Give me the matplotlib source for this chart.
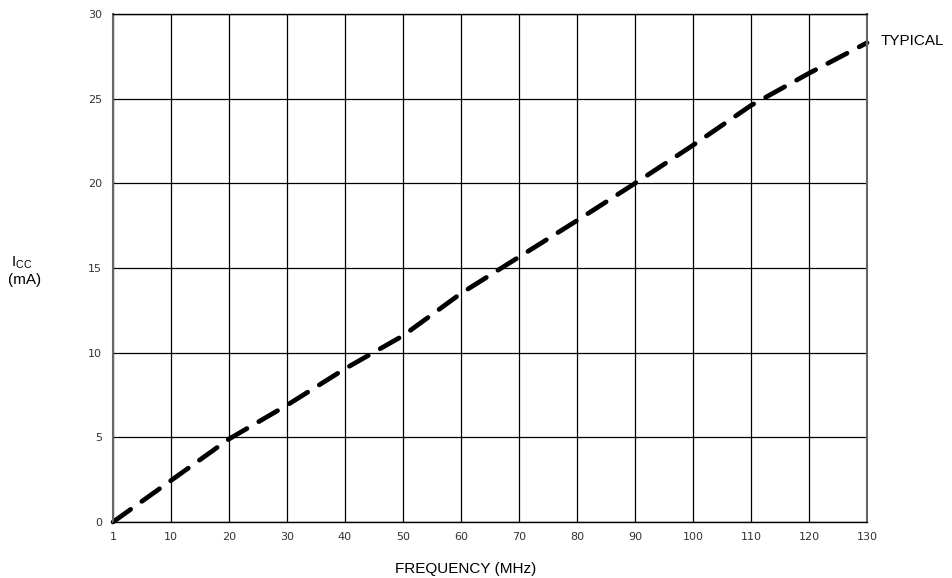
import matplotlib
matplotlib.use("Agg")
import matplotlib.pyplot as plt
import numpy as np

# Data
freq_ticks = [1, 10, 20, 30, 40, 50, 60, 70, 80, 90, 100, 110, 120, 130]
freq_labels = [str(v) for v in freq_ticks]
icc_ticks = [0, 5, 10, 15, 20, 25, 30]
icc_labels = [str(v) for v in icc_ticks]

freq = [1, 10, 20, 30, 40, 50, 60, 70, 80, 90, 100, 110, 120, 130]
icc_typical = [0.0, 2.45, 4.9, 6.9, 9.05, 11.0, 13.5, 15.65, 17.8, 20.0, 22.25, 24.6, 26.5, 28.3]

plt.rcParams['font.family'] = ['Liberation Sans', 'DejaVu Sans']
plt.rcParams['mathtext.fontset'] = 'custom'
plt.rcParams['mathtext.rm'] = 'Liberation Sans'

fig = plt.figure(figsize=(9.52, 5.78), dpi=100)
ax = fig.add_axes([113/952, 1 - 522/578, (867-113)/952, (522-14)/578])


def fwd(x):
    x = np.asarray(x, dtype=float)
    return np.where(x < 10, (x - 1) / 9.0 * 10.0, x)


def inv(y):
    y = np.asarray(y, dtype=float)
    return np.where(y < 10, y / 10.0 * 9.0 + 1, y)


ax.set_xscale('function', functions=(fwd, inv))
ax.set_xlim(1, 130)
ax.set_ylim(0, 30)

tick_font = dict(family='DejaVu Sans', fontsize=8, color='#333333')
ax.set_xticks(freq_ticks)
ax.set_xticklabels(freq_labels, **tick_font)
ax.set_yticks(icc_ticks)
ax.set_yticklabels(icc_labels, **tick_font)
ax.xaxis.set_minor_locator(matplotlib.ticker.NullLocator())
ax.tick_params(axis='both', length=0)
ax.tick_params(axis='x', pad=7)
ax.tick_params(axis='y', pad=8)

ax.grid(True, color='black', linewidth=0.9)
ax.set_axisbelow(True)
for s in ax.spines.values():
    s.set_linewidth(1.0)
    s.set_color('black')
ax.spines['left'].set_color('#666666')
ax.spines['right'].set_color('#666666')
ax.spines['left'].set_linewidth(1.5)
ax.spines['right'].set_linewidth(1.5)

ax.plot(freq, icc_typical, color='black', linewidth=3.4,
        linestyle=(0, (4.6, 2.9)), dash_capstyle='round', solid_capstyle='round', clip_on=False)

fig.text(881/952, 1 - 41/578, 'TYPICAL', fontsize=11, va='center', ha='left')
fig.text(466/952, 1 - 569/578, 'FREQUENCY (MHz)', fontsize=11, va='center', ha='center')
fig.text(11/952, 1 - 263/578, r'I$_{\mathregular{CC}}$', fontsize=11, va='center', ha='left')
fig.text(8/952, 1 - 280/578, '(mA)', fontsize=11, va='center', ha='left')

fig.savefig('out.png', dpi=100)
